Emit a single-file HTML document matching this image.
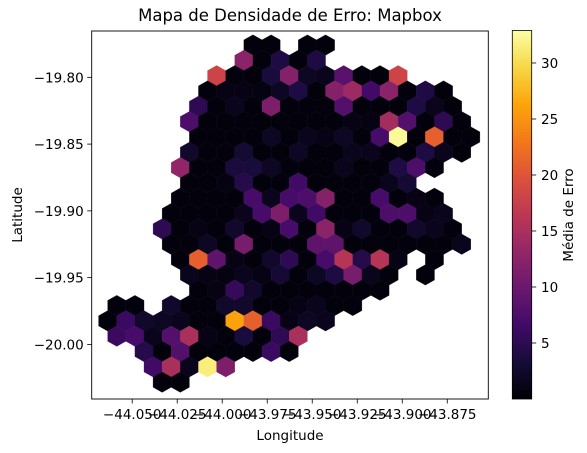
<!DOCTYPE html>
<html><head><meta charset="utf-8"><style>
html,body{margin:0;padding:0;background:#fff;}
svg{display:block;font-family:"DejaVu Sans","Liberation Sans",sans-serif;}
</style></head><body>
<svg id="chart" width="587" height="453" viewBox="0 0 587 453" xmlns="http://www.w3.org/2000/svg">
<rect x="0" y="0" width="587" height="453" fill="#fff"/>
<text x="290" y="21" font-size="16.5" text-anchor="middle" fill="#000">Mapa de Densidade de Erro: Mapbox</text>
<g id="hexes"></g>
<rect x="91.7" y="31" width="396.6" height="368" fill="none" stroke="#000" stroke-width="0.9"/>
<g id="xticks"></g>
<g id="yticks"></g>
<text x="290" y="440" font-size="13.5" text-anchor="middle">Longitude</text>
<text x="22" y="215" font-size="13.5" text-anchor="middle" transform="rotate(-90 22 215)">Latitude</text>
<defs><linearGradient id="cbgrad" x1="0" y1="1" x2="0" y2="0"></linearGradient></defs>
<rect x="512.3" y="30.5" width="19.4" height="368.5" fill="url(#cbgrad)" stroke="#000" stroke-width="0.8"/>
<g id="cbticks"></g>
<text x="573" y="215" font-size="13.5" text-anchor="middle" transform="rotate(-90 573 215)">Média de Erro</text>
</svg>
<script>
// ---- data ----
const rowStartK = [0,-1,-4,-5,-6,-7,-6,-7,-8,-7,-8,-9,-10,-9,-8,-7,-6,-15,-16,-15,-12,-11,-10];
const rowVals = [
 [0.5,0.5,null,0.5,0.5],
 [12.5,0.5,4,0.5,4],
 [18,0.5,0.5,3.5,12,2,1.5,8.5,0.5,0.5,18],
 [0.5,1,1,0.8,2,4,0.5,12,14,6.5,12.5,0.5,4,0.5],
 [5,0.5,1.5,0.5,11.5,0.5,0.5,0.5,8,0.5,0.5,0.5,4,1.5,0.5],
 [7.5,0.5,0.5,0.5,0.5,0.5,0.5,0.5,0.5,1,0.8,14.5,8,0.5,5,0.5],
 [0.5,0.5,0.5,0.5,2,0.5,1.5,1,2,0.5,7,32.5,0.5,21,0.5,0.5],
 [2.5,0.5,0.5,3,0.5,0.5,2,0.5,0.5,1.5,1.5,0.5,0.5,4,1.5,0.5],
 [13,0.5,0.5,3.5,3.5,2,0.5,0.5,0.5,1.5,0.5,0.5,4,7.5,0.5],
 [0.5,0.5,0.8,4.5,0.5,0.5,6.5,0.5,0.5,0.5,0.5,1.5,3],
 [0.5,0.5,0.5,0.5,7,1.5,7,7.5,12,0.5,0.5,7,0.5,1,0.5],
 [0.5,0.5,0.5,0.5,1.5,7,11.5,1.5,6.5,0.5,0.5,0.5,7.5,7.5,1,1.5],
 [5,0.5,1,0.5,2.5,0.5,1,7,0.5,12.5,1,2.5,0.5,0.5,2.5,1.5,0.5],
 [0.5,0.5,2,0.5,11,0.5,0.5,0.5,9,9,0.5,0.5,0.5,0.5,0.5,0.5,1.5],
 [0.5,21,9,1,0.5,2.5,5,0.5,7,16,4.5,16,1,null,0.5],
 [1.5,1,0.8,1.5,1,3,0.5,2,4,11,1.5,0.5,null,0.5],
 [0.5,1,5.5,2.5,0.5,0.5,0.5,0.5,0.5,0.5,0.5],
 [0.5,0.5,null,2.5,0.5,0.5,2.5,2.5,0.5,0.5,1,1.5,0.5,0.5],
 [0.5,6,2.5,2,1.5,0.5,0.5,26,21,6,1,2,1.5],
 [6,7,1.5,8,15,1,0.5,3.5,0.5,5,15],
 [4.5,0.5,8,0.5,0.5,0.5,0.5,6,0.5],
 [6.5,15,1.5,31.5,11.5],
 [0.5,0.5]
];
const gridLon0 = -43.98294, gridLat0 = -19.77581, gridDLon = 0.005042, gridDLat = 0.011476;
const xTickVals = [-44.050,-44.025,-44.000,-43.975,-43.950,-43.925,-43.900,-43.875];
const xTickLabels = ["\u221244.050","\u221244.025","\u221244.000","\u221243.975","\u221243.950","\u221243.925","\u221243.900","\u221243.875"];
const yTickVals = [-19.80,-19.85,-19.90,-19.95,-20.00];
const yTickLabels = ["\u221219.80","\u221219.85","\u221219.90","\u221219.95","\u221220.00"];
const cbTickVals = [5,10,15,20,25,30];
const vMin = 0.0, vMax = 32.9;

// ---- axes ----
const X0 = 91.7, X1 = 488.3, Y0 = 31, Y1 = 399;
const lonMin = -44.0725, lonMax = -43.8522, latMax = -19.7653, latMin = -20.0409;
function xScale(lon){ return X0 + (lon - lonMin) / (lonMax - lonMin) * (X1 - X0); }
function yScale(lat){ return Y0 + (latMax - lat) / (latMax - latMin) * (Y1 - Y0); }
const CB0 = 399, CB1 = 30.5;
function cbScale(v){ return CB0 + (v - vMin) / (vMax - vMin) * (CB1 - CB0); }

const inf = ["#000004","#160b39","#420a68","#6a176e","#932667","#bc3754","#dd513a","#f37819","#fca50a","#f6d746","#fcffa4"];
function hex2rgb(h){ return [parseInt(h.substr(1,2),16),parseInt(h.substr(3,2),16),parseInt(h.substr(5,2),16)]; }
function cmap(v){
  let t = Math.max(0, Math.min(1, (v - vMin) / (vMax - vMin))) * 10;
  let i = Math.min(9, Math.floor(t)), f = t - i;
  let a = hex2rgb(inf[i]), b = hex2rgb(inf[i+1]);
  return "rgb(" + a.map((c,j)=>Math.round(c + (b[j]-c)*f)).join(",") + ")";
}
const NS = "http://www.w3.org/2000/svg";
const hexG = document.getElementById("hexes");
rowVals.forEach((vals, r) => {
  vals.forEach((v, j) => {
    if (v === null) return;
    const k = rowStartK[r] + 2*j;
    const lon = gridLon0 + k * gridDLon, lat = gridLat0 - r * gridDLat;
    const cx = xScale(lon), cy = yScale(lat);
    const hw = xScale(lon + gridDLon) - cx;
    const rowH = yScale(lat - gridDLat) - cy;
    const tp = rowH * 2 / 3, sd = rowH / 3;
    const pts = [[cx+hw,cy-sd],[cx+hw,cy+sd],[cx,cy+tp],[cx-hw,cy+sd],[cx-hw,cy-sd],[cx,cy-tp]];
    const p = document.createElementNS(NS, "polygon");
    p.setAttribute("points", pts.map(q=>q[0].toFixed(2)+","+q[1].toFixed(2)).join(" "));
    p.setAttribute("fill", cmap(v));
    p.setAttribute("stroke", cmap(v));
    p.setAttribute("stroke-width", "0.3");
    
    
    hexG.appendChild(p);
  });
});
const xg = document.getElementById("xticks");
xTickVals.forEach((v,i)=>{
  const x = xScale(v);
  const l = document.createElementNS(NS,"line");
  l.setAttribute("x1",x); l.setAttribute("x2",x); l.setAttribute("y1",Y1); l.setAttribute("y2",Y1+4.5);
  l.setAttribute("stroke","#000"); l.setAttribute("stroke-width","0.8");
  
  
  xg.appendChild(l);
  const t = document.createElementNS(NS,"text");
  t.setAttribute("x",x); t.setAttribute("y",Y1+20); t.setAttribute("font-size","13.5"); t.setAttribute("text-anchor","middle");
  t.textContent = xTickLabels[i];
  
  
  xg.appendChild(t);
});
const yg = document.getElementById("yticks");
yTickVals.forEach((v,i)=>{
  const y = yScale(v);
  const l = document.createElementNS(NS,"line");
  l.setAttribute("x1",X0-4.5); l.setAttribute("x2",X0); l.setAttribute("y1",y); l.setAttribute("y2",y);
  l.setAttribute("stroke","#000"); l.setAttribute("stroke-width","0.8");
  
  
  yg.appendChild(l);
  const t = document.createElementNS(NS,"text");
  t.setAttribute("x",X0-8); t.setAttribute("y",y+5); t.setAttribute("font-size","13.5"); t.setAttribute("text-anchor","end");
  t.textContent = yTickLabels[i];
  
  
  yg.appendChild(t);
});
const grad = document.getElementById("cbgrad");
for (let i=0;i<=20;i++){
  const s = document.createElementNS(NS,"stop");
  s.setAttribute("offset",(i/20));
  s.setAttribute("stop-color",cmap(vMin + (vMax-vMin)*i/20));
  grad.appendChild(s);
}
const cg = document.getElementById("cbticks");
cbTickVals.forEach(v=>{
  const y = cbScale(v);
  const l = document.createElementNS(NS,"line");
  l.setAttribute("x1",531.7); l.setAttribute("x2",536.2); l.setAttribute("y1",y); l.setAttribute("y2",y);
  l.setAttribute("stroke","#000"); l.setAttribute("stroke-width","0.8");
  
  
  cg.appendChild(l);
  const t = document.createElementNS(NS,"text");
  t.setAttribute("x",541); t.setAttribute("y",y+5); t.setAttribute("font-size","13.5");
  t.textContent = String(v);
  
  
  cg.appendChild(t);
});
</script>
</body></html>
